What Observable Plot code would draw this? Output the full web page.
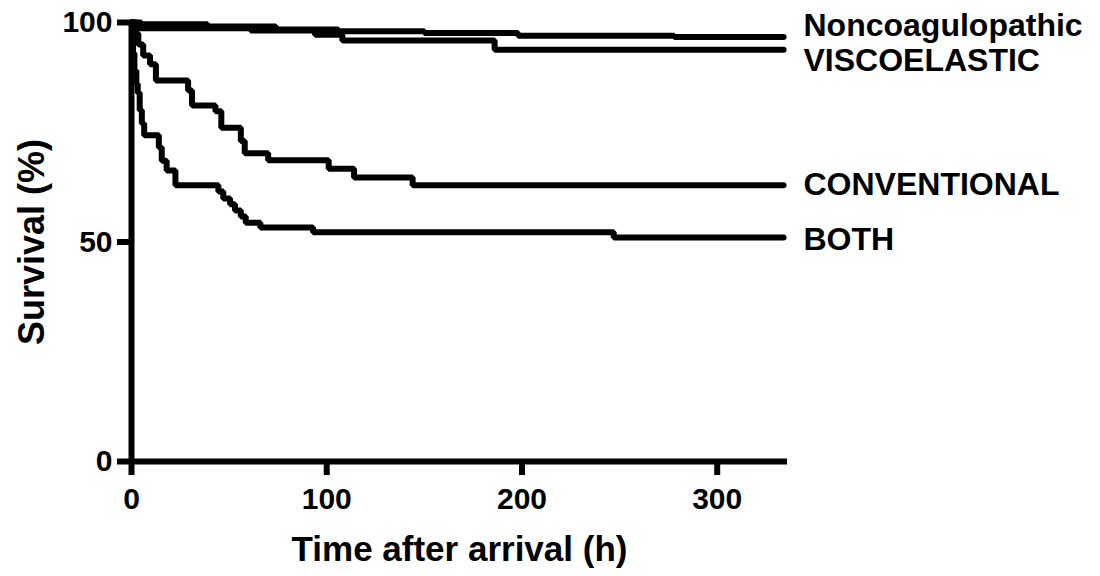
<!DOCTYPE html>
<html><head><meta charset="utf-8">
<script src="https://cdn.jsdelivr.net/npm/d3@7"></script>
<script src="https://cdn.jsdelivr.net/npm/@observablehq/plot@0.6"></script>
<style>body{margin:0;background:#fff}</style>
</head><body><div id="chart"></div>
<script>
// Kaplan-Meier survival (%) vs time after arrival (h)
const seriesNames = ["Noncoagulopathic", "VISCOELASTIC", "CONVENTIONAL", "BOTH"];

const noncoagTime = [0, 5, 39, 74, 106, 150, 198, 278, 334];
const noncoagSurv = [100, 99.6, 99.1, 98.4, 98.0, 97.6, 97.0, 96.7, 96.7];

const viscoTime = [0, 3, 61, 94, 108, 186, 334];
const viscoSurv = [100, 98.7, 98.2, 97.2, 95.9, 93.8, 93.8];

const convTime = [0, 2, 3.5, 6, 9.5, 12.5, 29, 31, 43, 46, 56, 58, 70, 101, 114, 144, 334];
const convSurv = [100, 97.5, 95, 92.5, 90.5, 86.8, 84.5, 81.1, 79.8, 76, 73, 70.2, 68.6, 66.7, 64.7, 62.9, 62.9];

const bothTime = [0, 0.3, 0.8, 1.5, 2.5, 3.2, 4.2, 5.3, 6.5, 14, 15.5, 18, 22.5, 44.5, 47, 50.5, 53, 56, 58.5, 66, 93, 247, 334];
const bothSurv = [100, 97, 93, 89, 86, 84, 80, 77, 74.3, 71.5, 68.5, 66.3, 62.9, 61.5, 59.9, 58.6, 57.2, 55.8, 54.4, 53.3, 52.2, 51.0, 51.0];

const labelSurv = [99.3, 91.3, 63.1, 50.6];
const xTicks = [0, 100, 200, 300];
const yTicks = [0, 50, 100];
const xMax = 336;

const times = [noncoagTime, viscoTime, convTime, bothTime];
const survs = [noncoagSurv, viscoSurv, convSurv, bothSurv];
const rows = [];
seriesNames.forEach((name, i) => {
  times[i].forEach((t, j) => rows.push({group: name, t, s: survs[i][j]}));
});
const labels = seriesNames.map((name, i) => ({name, s: labelSurv[i]}));

const chart = Plot.plot({
  width: 1100, height: 576,
  marginLeft: 131, marginRight: 313, marginTop: 22, marginBottom: 115,
  x: {domain: [0, xMax]},
  y: {domain: [0, 100]},
  style: {fontFamily: "'Liberation Sans', Arial, sans-serif", fontWeight: "bold", color: "#000", background: "#fff"},
  marks: [
    Plot.line(rows, {x: "t", y: "s", z: "group", curve: "step-after", stroke: "#000", strokeWidth: 6, strokeLinecap: "round", strokeLinejoin: "miter"}),
    Plot.axisX({ticks: xTicks, tickSize: 14, tickPadding: 12, strokeWidth: 6, fontSize: 30, fontWeight: "bold", label: null}),
    Plot.axisY({ticks: yTicks, tickSize: 14, tickPadding: 5, strokeWidth: 6, fontSize: 30, fontWeight: "bold", label: null}),
    Plot.ruleX([0], {y1: 0, y2: 100, strokeWidth: 6}),
    Plot.ruleY([0], {x1: 0, x2: xMax, strokeWidth: 6}),
    Plot.text(labels, {x: () => xMax, y: "s", text: "name", dx: 16, textAnchor: "start", fontSize: 32, fontWeight: "bold"}),
    Plot.text(["Time after arrival (h)"], {frameAnchor: "bottom", dy: 99, lineAnchor: "bottom", textAnchor: "middle", fontSize: 35, fontWeight: "bold"}),
    Plot.text(["Survival (%)"], {frameAnchor: "left", dx: -88, rotate: -90, lineAnchor: "bottom", textAnchor: "middle", fontSize: 36, fontWeight: "bold"})
  ]
});
document.getElementById("chart").appendChild(chart);
</script>
</body></html>
